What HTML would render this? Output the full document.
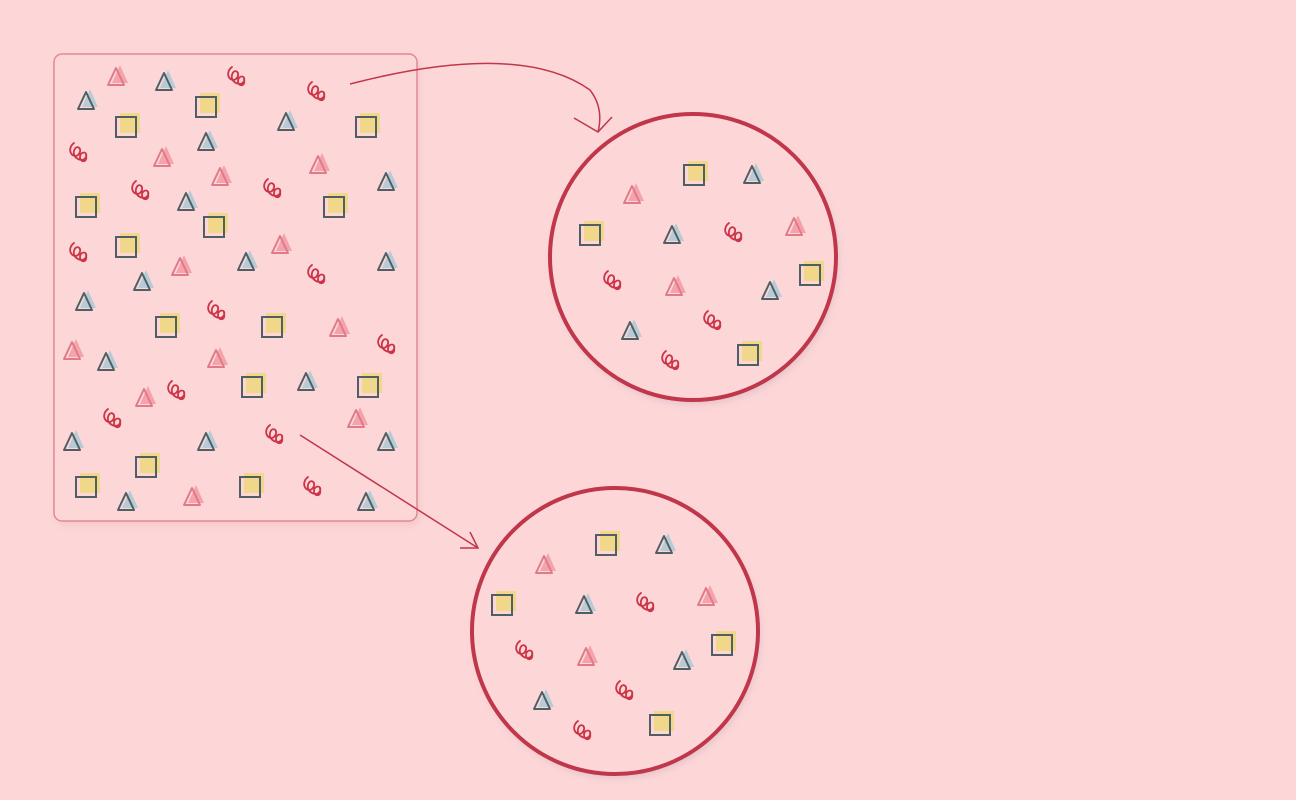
<!DOCTYPE html>
<html><head><meta charset="utf-8">
<style>
html,body{margin:0;padding:0;background:#fdd7d8;}
svg{display:block;}
</style></head>
<body>
<svg id="scene" width="1296" height="800" viewBox="0 0 1296 800" xmlns="http://www.w3.org/2000/svg">
<defs>
<filter id="sh" x="-20%" y="-20%" width="140%" height="140%"><feGaussianBlur stdDeviation="4"/></filter>
</defs>
<rect width="1296" height="800" fill="#fdd7d8"/>
<rect x="56" y="58" width="363" height="467" rx="8" fill="#e9b3b8" opacity="0.5" filter="url(#sh)"/>
<rect x="54" y="54" width="363" height="467" rx="8" fill="#fdd7d8" stroke="#e08a95" stroke-width="1.5"/>
<circle cx="695" cy="261" r="143" fill="#c9a9b8" opacity="0.5" filter="url(#sh)"/>
<circle cx="693" cy="257" r="143" fill="#fdd7d8" stroke="#c0364a" stroke-width="4"/>
<circle cx="617" cy="635" r="143" fill="#c9a9b8" opacity="0.5" filter="url(#sh)"/>
<circle cx="615" cy="631" r="143" fill="#fdd7d8" stroke="#c0364a" stroke-width="4"/>
<g fill="none" stroke="#c0364a" stroke-width="1.5">
<path d="M350 84 Q520 40 590 90 Q604 108 598 132"/>
<path d="M574 118 L598 132 L612 117"/>
<path d="M300 435 L478 548"/>
<path d="M460 548 L478 548 L470 532"/>
</g>
<g id="items"></g>
</svg>
<script>
const popSquares=[[206,107],[126,127],[366,127],[86,207],[334,207],[214,227],[126,247],[166,327],[272,327],[252,387],[368,387],[146,467],[86,487],[250,487]];
const popDarkTri=[[86,101],[164,82],[286,122],[206,142],[186,202],[386,182],[246,262],[142,282],[386,262],[84,302],[106,362],[306,382],[72,442],[206,442],[386,442],[126,502],[366,502]];
const popPinkTri=[[116,77],[162,158],[318,165],[220,177],[280,245],[180,267],[338,328],[72,351],[216,359],[144,398],[356,419],[192,497]];
const popScribble=[[236,77],[316,92],[78,153],[140,191],[272,189],[78,253],[316,275],[216,311],[386,345],[176,391],[112,419],[274,435],[312,487]];
const s1Squares=[[694,175],[590,235],[810,275],[748,355]];
const s1DarkTri=[[752,175],[672,235],[770,291],[630,331]];
const s1PinkTri=[[632,195],[794,227],[674,287]];
const s1Scribble=[[733,233],[612,281],[712,321],[670,361]];
const s2Squares=[[606,545],[502,605],[722,645],[660,725]];
const s2DarkTri=[[664,545],[584,605],[682,661],[542,701]];
const s2PinkTri=[[544,565],[706,597],[586,657]];
const s2Scribble=[[645,603],[524,651],[624,691],[582,731]];

const g=document.getElementById('items');
const NS='http://www.w3.org/2000/svg';
function add(html){const t=document.createElementNS(NS,'g');t.innerHTML=html;g.appendChild(t);return t;}
function square(c){const [x,y]=c;
 const el=add(`<rect x="${x-6}" y="${y-14}" width="20" height="20" fill="#f0d78a"/><rect x="${x-10}" y="${y-10}" width="20" height="20" fill="none" stroke="#4f5f63" stroke-width="2"/>`);
 
 }
function tri(c,dark){const [x,y]=c;
 const fill=dark?'#b7cbd6':'#f4a3ac', st=dark?'#4f5f63':'#e07a88';
 const el=add(`<path d="M${x+4} ${y-12} L${x+12} ${y+6} L${x-4} ${y+6} Z" fill="${fill}"/><path d="M${x} ${y-9} L${x+8} ${y+8} L${x-8} ${y+8} Z" fill="none" stroke="${st}" stroke-width="2" stroke-linejoin="round"/>`);
 
 }
function scrib(c){const [x,y]=c;
 const el=add(`<path d="M${x-4} ${y-10} C${x-12} ${y-4} ${x-6} ${y+6} ${x} ${y+2} C${x+6} ${y-4} ${x-2} ${y-10} ${x-4} ${y-2} C${x-6} ${y+6} ${x+6} ${y+10} ${x+8} ${y+4} C${x+10} ${y-2} ${x+2} ${y-2} ${x+2} ${y+4} C${x+2} ${y+10} ${x+10} ${y+10} ${x+8} ${y+2}" fill="none" stroke="#cc3448" stroke-width="1.8" stroke-linecap="round"/>`);
 
 }
[popSquares,s1Squares,s2Squares].forEach(a=>a.forEach(square));
[popDarkTri,s1DarkTri,s2DarkTri].forEach(a=>a.forEach(c=>tri(c,true)));
[popPinkTri,s1PinkTri,s2PinkTri].forEach(a=>a.forEach(c=>tri(c,false)));
[popScribble,s1Scribble,s2Scribble].forEach(a=>a.forEach(scrib));
</script>
</body></html>
